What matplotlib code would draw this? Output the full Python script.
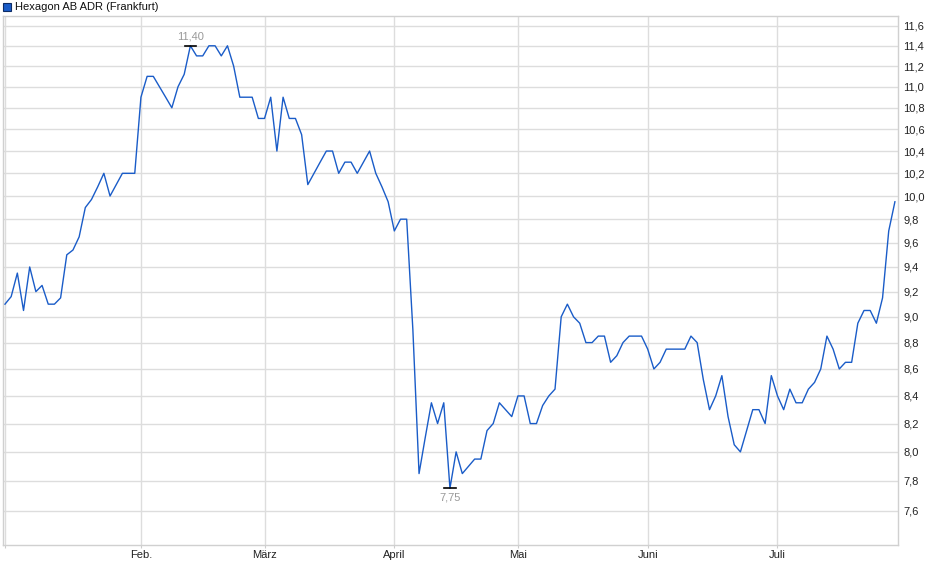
import matplotlib
matplotlib.use("Agg")
import matplotlib.pyplot as plt
import numpy as np
from matplotlib.patches import Rectangle
from matplotlib.ticker import FixedLocator, FuncFormatter, NullLocator

plt.rcParams['font.family'] = ['Liberation Sans', 'DejaVu Sans']

title = "Hexagon AB ADR (Frankfurt)"

# trading days per month (Jan..Jul) and month labels
days_per_month = [22, 20, 21, 20, 21, 21, 20]
month_labels = ["", "Feb.", "März", "April", "Mai", "Juni", "Juli"]

jan = [9.10, 9.16, 9.35, 9.05, 9.40, 9.20, 9.25, 9.10, 9.10, 9.15, 9.50,
       9.54, 9.65, 9.90, 9.97, 10.08, 10.20, 10.00, 10.10, 10.20, 10.20, 10.20]
feb = [10.90, 11.10, 11.10, 11.00, 10.90, 10.80, 11.00, 11.12, 11.40, 11.30,
       11.30, 11.40, 11.40, 11.30, 11.40, 11.20, 10.90, 10.90, 10.90, 10.70]
mar = [10.70, 10.90, 10.40, 10.90, 10.70, 10.70, 10.55, 10.10, 10.20, 10.30,
       10.40, 10.40, 10.20, 10.30, 10.30, 10.20, 10.30, 10.40, 10.20, 10.08, 9.95]
apr = [9.70, 9.80, 9.80, 8.90, 7.85, 8.10, 8.35, 8.20, 8.35, 7.75,
       8.00, 7.85, 7.90, 7.95, 7.95, 8.15, 8.20, 8.35, 8.30, 8.25]
may = [8.40, 8.40, 8.20, 8.20, 8.33, 8.40, 8.45, 9.00, 9.10, 9.00, 8.95,
       8.80, 8.80, 8.85, 8.85, 8.65, 8.70, 8.80, 8.85, 8.85, 8.85]
jun = [8.75, 8.60, 8.65, 8.75, 8.75, 8.75, 8.75, 8.85, 8.80, 8.52, 8.30,
       8.40, 8.55, 8.25, 8.05, 8.00, 8.15, 8.30, 8.30, 8.20, 8.55]
jul = [8.40, 8.30, 8.45, 8.35, 8.35, 8.45, 8.50, 8.60, 8.85, 8.75,
       8.60, 8.65, 8.65, 8.95, 9.05, 9.05, 8.95, 9.15, 9.70, 9.95]

price = np.array(jan + feb + mar + apr + may + jun + jul)
x = np.arange(len(price))
month_starts = np.concatenate([[0], np.cumsum(days_per_month)[:-1]])

yticks = np.round(np.arange(7.6, 11.61, 0.2), 1)

fig = plt.figure(figsize=(9.4, 5.79), dpi=100)
ax = fig.add_axes([3 / 940, 34 / 579, 895 / 940, 529 / 579])

ax.plot(x, price, color="#1a5cc8", lw=1.0, zorder=3)

ax.set_yscale("log")
ax.set_ylim(7.376, 11.70)
ax.set_xlim(-0.32, 144.5)
ax.yaxis.set_major_locator(FixedLocator(yticks))
ax.yaxis.set_minor_locator(NullLocator())
ax.yaxis.set_major_formatter(FuncFormatter(lambda v, p: f"{v:.1f}".replace(".", ",")))
ax.yaxis.tick_right()
ax.tick_params(axis="y", length=0, pad=4, labelsize=8, labelcolor="#222222")

ax.set_xticks(month_starts)
ax.set_xticklabels(month_labels)
ax.tick_params(axis="x", length=2, color="#cccccc", pad=1.5, labelsize=8, labelcolor="#222222")

ax.grid(True, color="#dddddd", lw=1.0)
ax.set_axisbelow(True)
for s in ax.spines.values():
    s.set_color("#d0d0d0")
    s.set_linewidth(1.0)

# high / low markers
imax, imin = np.argmax(price), np.argmin(price)
ax.plot([imax - 0.9, imax + 0.9], [price[imax]] * 2, color="black", lw=1.2, zorder=4)
ax.plot([imin - 0.9, imin + 0.9], [price[imin]] * 2, color="black", lw=1.2, zorder=4)
ax.annotate(f"{price[imax]:.2f}".replace(".", ","), (imax, price[imax]), xytext=(0, 3),
            textcoords="offset points", ha="center", va="bottom", fontsize=8, color="#999999")
ax.annotate(f"{price[imin]:.2f}".replace(".", ","), (imin, price[imin]), xytext=(0, -3),
            textcoords="offset points", ha="center", va="top", fontsize=8, color="#999999")

# legend box at top left
fig.patches.append(Rectangle((3 / 940, 1 - 11 / 579), 8 / 940, 8 / 579, transform=fig.transFigure,
                             facecolor="#1a5cc8", edgecolor="#0d2c66", lw=0.8))
fig.text(15 / 940, 1 - 7 / 579, title, ha="left", va="center", fontsize=8, color="#111111")

fig.savefig("out.png", dpi=100)
